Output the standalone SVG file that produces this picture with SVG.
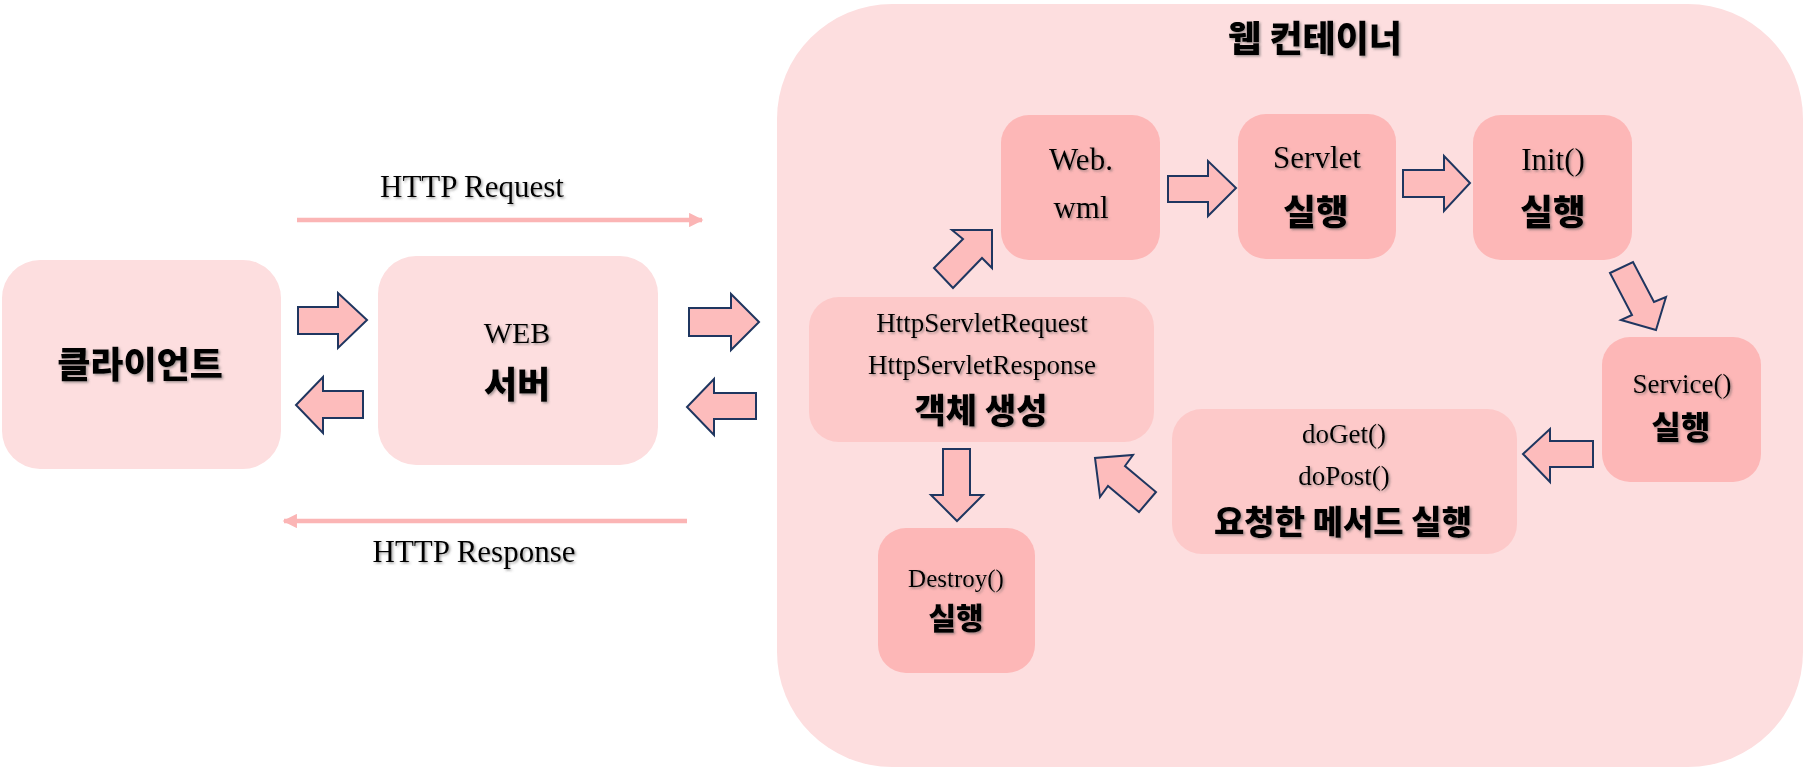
<svg xmlns="http://www.w3.org/2000/svg" width="1804" height="768" viewBox="0 0 1804 768">
<defs>
<filter id="sh" x="-10%" y="-20%" width="130%" height="150%">
<feDropShadow dx="1.5" dy="1.5" stdDeviation="1" flood-color="#555" flood-opacity="0.55"/>
</filter>
<marker id="ah" viewBox="0 0 10 10" refX="9" refY="5" markerWidth="3.4" markerHeight="3.2" orient="auto" markerUnits="strokeWidth">
<path d="M0,0 L10,5 L0,10 Z" fill="#FBB5B5"/>
</marker>
</defs>
<style>
.light{fill:#FDDEDF}
.mid{fill:#FDC9C9}
.dark{fill:#FDB7B7}
.en{font-family:"Liberation Serif","Times New Roman",serif;fill:#000;text-anchor:middle;filter:url(#sh)}
.ko{font-family:"Noto Sans CJK KR","Noto Sans CJK SC",sans-serif;font-weight:900;fill:#000;text-anchor:middle;filter:url(#sh)}
.blk{fill:#FDBCBC;stroke:#1F3660;stroke-width:2;stroke-linejoin:miter}
.ln{stroke:#FBB5B5;stroke-width:4.5;fill:none}
</style>
<rect x="0" y="0" width="1804" height="768" fill="#FFFFFF"/>

<g id="container">
<rect x="777" y="4" width="1026" height="763" rx="115" ry="115" class="light"/>
<text x="1315" y="52" class="ko" font-size="36">웹 컨테이너</text>
</g>

<g id="client">
<rect x="2" y="260" width="279" height="209" rx="38" class="light"/>
<text x="140" y="378" class="ko" font-size="36">클라이언트</text>
</g>

<g id="webserver">
<rect x="378" y="256" width="280" height="209" rx="38" class="light"/>
<text x="517" y="343" class="en" font-size="30">WEB</text>
<text x="517" y="398" class="ko" font-size="36">서버</text>
</g>

<g id="webxml">
<rect x="1001" y="115" width="159" height="145" rx="28" class="dark"/>
<text x="1081" y="170" class="en" font-size="31">Web.</text>
<text x="1081" y="218" class="en" font-size="31">wml</text>
</g>

<g id="servlet">
<rect x="1238" y="114" width="158" height="145" rx="28" class="dark"/>
<text x="1317" y="168" class="en" font-size="31">Servlet</text>
<text x="1316" y="225" class="ko" font-size="35.5">실행</text>
</g>

<g id="init">
<rect x="1473" y="115" width="159" height="145" rx="28" class="dark"/>
<text x="1553" y="170" class="en" font-size="31">Init()</text>
<text x="1553" y="225" class="ko" font-size="35.5">실행</text>
</g>

<g id="service">
<rect x="1602" y="337" width="159" height="145" rx="28" class="dark"/>
<text x="1682" y="393" class="en" font-size="27">Service()</text>
<text x="1681" y="439" class="ko" font-size="32">실행</text>
</g>

<g id="doget">
<rect x="1172" y="409" width="345" height="145" rx="30" class="mid"/>
<text x="1344" y="443" class="en" font-size="27">doGet()</text>
<text x="1344" y="485" class="en" font-size="27">doPost()</text>
<text x="1343" y="534" class="ko" font-size="33">요청한 메서드 실행</text>
</g>

<g id="httpservlet">
<rect x="809" y="297" width="345" height="145" rx="30" class="mid"/>
<text x="982" y="332" class="en" font-size="27">HttpServletRequest</text>
<text x="982" y="374" class="en" font-size="27">HttpServletResponse</text>
<text x="981" y="423" class="ko" font-size="34">객체 생성</text>
</g>

<g id="destroy">
<rect x="878" y="528" width="157" height="145" rx="28" class="dark"/>
<text x="956" y="587" class="en" font-size="25">Destroy()</text>
<text x="956" y="629" class="ko" font-size="30">실행</text>
</g>

<g id="connectors">
<line x1="297" y1="220" x2="702" y2="220" class="ln" marker-end="url(#ah)"/>
<text x="472" y="197" class="en" font-size="31">HTTP Request</text>
<line x1="687" y1="521" x2="284" y2="521" class="ln" marker-end="url(#ah)"/>
<text x="474" y="562" class="en" font-size="31">HTTP Response</text>

<polygon class="blk" points="298,307 338,307 338,293 367,320 338,348 338,334 298,334"/>
<polygon class="blk" points="363,391 323,391 323,377 296,405 323,433 323,418 363,418"/>
<polygon class="blk" points="689,308 731,308 731,294 759,322 731,350 731,336 689,336"/>
<polygon class="blk" points="756,393 714,393 714,379 687,407 714,435 714,419 756,419"/>
<polygon class="blk" points="1168,176 1208,176 1208,161 1236,188 1208,216 1208,202 1168,202"/>
<polygon class="blk" points="1403,170 1444,170 1444,156 1470,183 1444,211 1444,197 1403,197"/>
<polygon class="blk" points="1610,273 1633,262 1654,302 1666,297 1656,330 1621,320 1632,315"/>
<polygon class="blk" points="1593,441 1550,441 1550,429 1523,454 1550,482 1550,467 1593,467"/>
<polygon class="blk" points="1156,492 1139,512 1108,486 1100,497 1095,458 1133,455 1125,466"/>
<polygon class="blk" points="943,449 970,449 970,495 983,495 957,521 931,495 943,495"/>
<polygon class="blk" points="934,268 963,239 952,230 992,230 992,268 982,258 953,288"/>
</g>
</svg>
